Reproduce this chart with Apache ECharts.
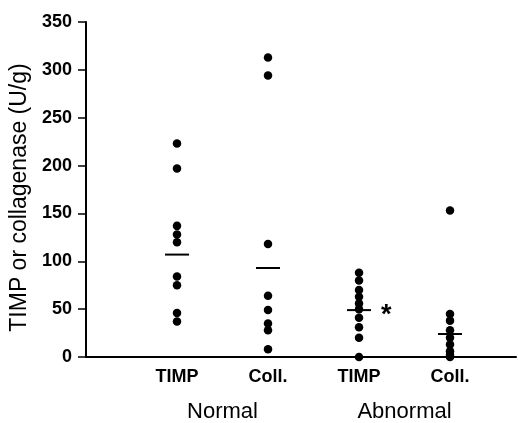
<!DOCTYPE html>
<html>
<head>
<meta charset="utf-8">
<script src="https://cdn.jsdelivr.net/npm/echarts@6/dist/echarts.min.js"></script>
<style>
html,body{margin:0;padding:0;background:#fff;}
#chart{width:518px;height:423px;}
</style>
</head>
<body>
<div id="chart"></div>
<script>
var categories = ['TIMP', 'Coll.', 'TIMP', 'Coll.'];
var groups = ['Normal', 'Abnormal'];
var categoryPos = [1, 2, 3, 4];
var groupPos = [1.5, 3.5];
var normalTimp = [223, 197, 137, 128, 120, 84, 75, 46, 37];
var normalColl = [313, 294, 118, 64, 49, 35, 28, 8];
var abnormalTimp = [88, 80, 70, 63, 56, 50, 41, 31, 20, 0];
var abnormalColl = [153, 45, 38, 28, 20, 13, 6, 2, 0];
var means = [107, 93, 49, 24];
var yTicks = [0, 50, 100, 150, 200, 250, 300, 350];
var significant = [{pos: 3.3, value: 49, mark: '*'}];

var allGroups = [normalTimp, normalColl, abnormalTimp, abnormalColl];
var dots = [];
allGroups.forEach(function (arr, i) {
  arr.forEach(function (v) { dots.push([categoryPos[i], v]); });
});
var meanData = means.map(function (m, i) { return [categoryPos[i], m]; });

var fontFam = '"Liberation Sans", Arial, Helvetica, sans-serif';
var chart = echarts.init(document.getElementById('chart'));
chart.setOption({
  backgroundColor: '#fff',
  animation: false,
  grid: {left: 86, right: 2, top: 22, bottom: 65},
  xAxis: [{
    type: 'value', min: 0, max: 4.725,
    splitLine: {show: false},
    axisLine: {show: true, onZero: false, lineStyle: {color: '#000', width: 2}},
    axisTick: {show: false},
    axisLabel: {
      customValues: categoryPos,
      margin: 11,
      color: '#000', fontSize: 18, fontWeight: 'bold', fontFamily: fontFam,
      formatter: function (v) { var i = categoryPos.indexOf(v); return i >= 0 ? categories[i] : ''; }
    }
  }, {
    type: 'value', min: 0, max: 4.725, position: 'bottom',
    splitLine: {show: false},
    axisLine: {show: false},
    axisTick: {show: false},
    axisLabel: {
      customValues: groupPos,
      margin: 44,
      color: '#000', fontSize: 22, fontFamily: fontFam,
      formatter: function (v) { var i = groupPos.indexOf(v); return i >= 0 ? groups[i] : ''; }
    }
  }],
  yAxis: {
    type: 'value', min: 0, max: 350, interval: 50,
    name: 'TIMP or collagenase (U/g)',
    nameLocation: 'middle', nameGap: 49,
    nameTextStyle: {color: '#000', fontSize: 23, fontFamily: fontFam, padding: [0, 16, 0, 0]},
    splitLine: {show: false},
    axisLine: {show: true, lineStyle: {color: '#000', width: 2}},
    axisTick: {show: true, length: 8, lineStyle: {color: '#000', width: 1.5}},
    axisLabel: {
      margin: 14, color: '#000', fontSize: 18, fontWeight: 'bold', fontFamily: fontFam,
      formatter: function (v) { return yTicks.indexOf(v) >= 0 ? String(v) : ''; }
    }
  },
  series: [{
    type: 'scatter', data: dots, symbol: 'circle', symbolSize: 8.5,
    itemStyle: {color: '#000', opacity: 1}
  }, {
    type: 'scatter', data: meanData, symbol: 'rect', symbolSize: [24, 2],
    itemStyle: {color: '#000', opacity: 1}, z: 3
  }, {
    type: 'scatter', data: significant.map(function (s) { return [s.pos, s.value]; }),
    symbolSize: 1, itemStyle: {color: 'rgba(0,0,0,0)', opacity: 1},
    label: {
      show: true, position: 'inside', offset: [0, 5],
      formatter: function (p) { return significant[p.dataIndex].mark; },
      color: '#000', fontSize: 27, fontWeight: 'bold', fontFamily: fontFam
    }
  }]
});
</script>
</body>
</html>
